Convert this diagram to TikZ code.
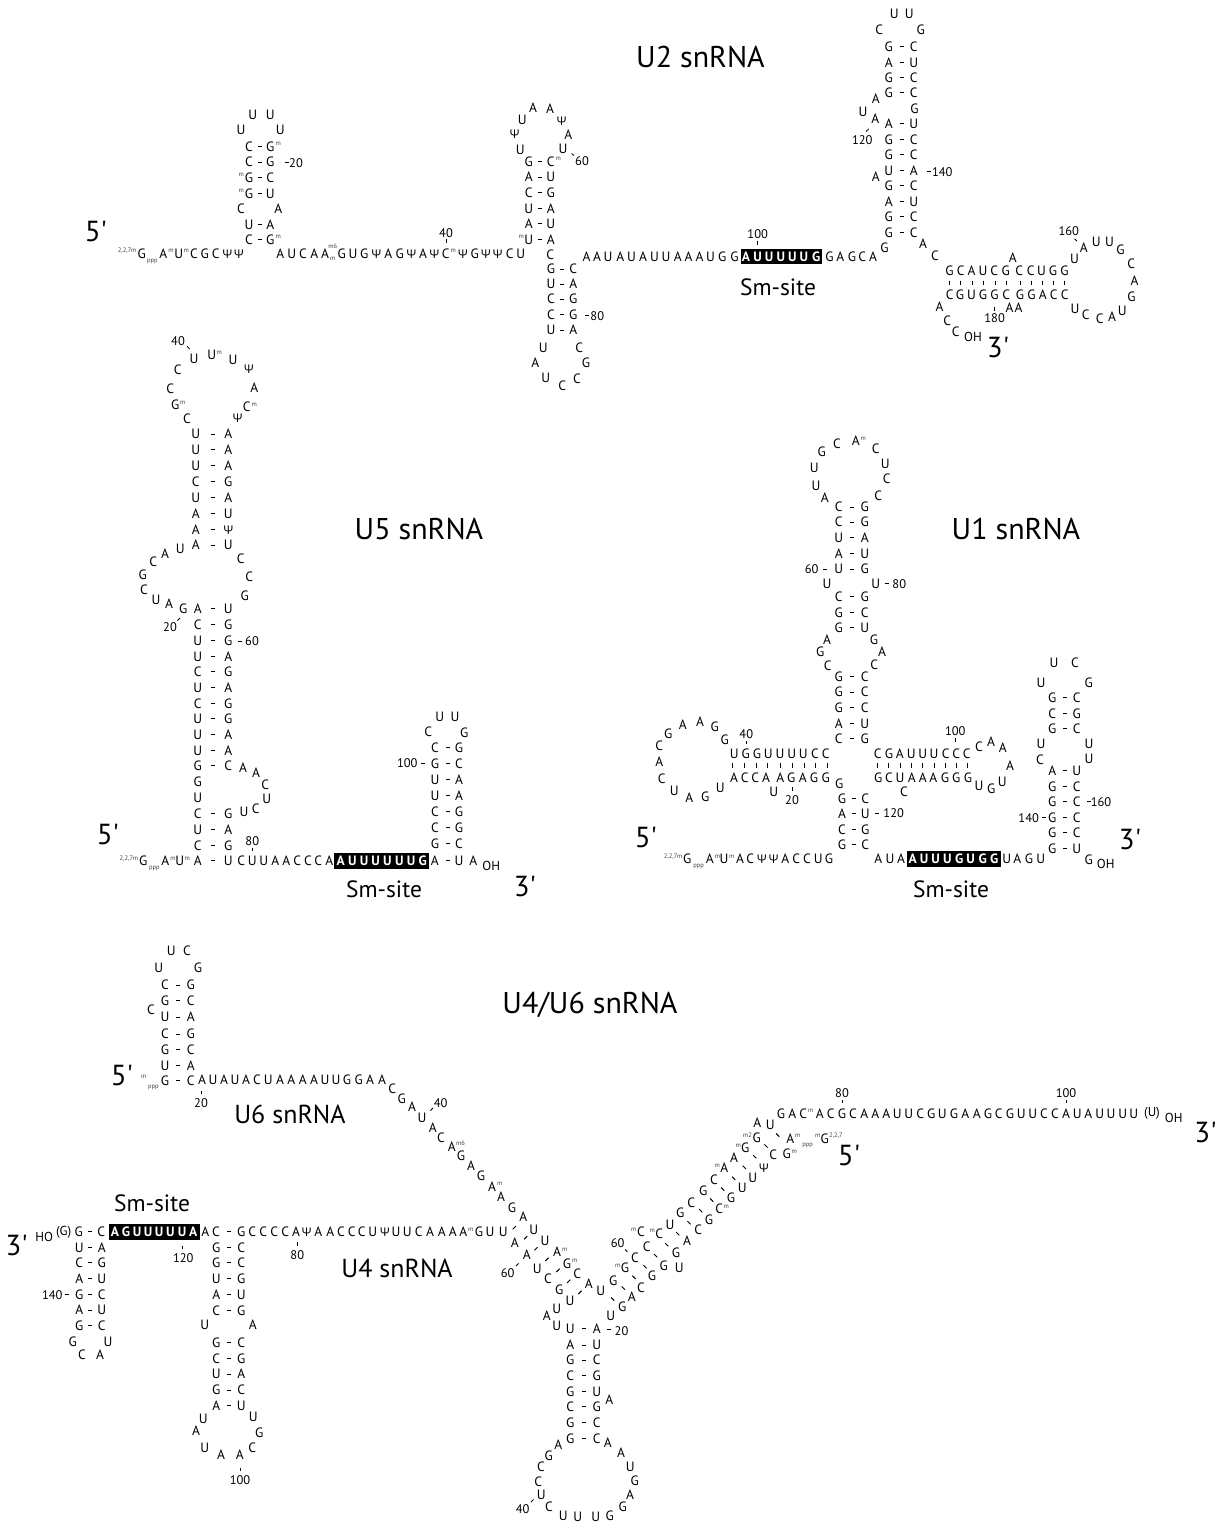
\documentclass[tikz,border=0pt]{standalone}
\usepackage{fontspec}
\setmainfont{PT Sans}
\newfontfamily\psifont{Open Sans}
\newfontfamily\primefont{PT Sans}
\newcommand\Pj{{\psifont\fontsize{12}{13}\selectfont Ψ}}
\tikzset{
  nt/.style={inner sep=0pt,outer sep=0pt,font=\fontsize{13.5}{14}\selectfont,text height=9.4pt,text depth=0pt,anchor=center},
  ntw/.style={nt,text=white,font=\fontsize{13.5}{14}\selectfont\bfseries},
  num/.style={inner sep=0pt,font=\fontsize{12.5}{13}\selectfont,text height=8.8pt,text depth=0pt,anchor=center},
  modr/.style={inner sep=0pt,font=\fontsize{6.5}{8}\selectfont,text=black!75,anchor=west},
  modl/.style={inner sep=0pt,font=\fontsize{6.5}{8}\selectfont,text=black!75,anchor=east},
  modc/.style={inner sep=0pt,font=\fontsize{6.5}{8}\selectfont,text=black!75,anchor=center},
  oh/.style={inner sep=0pt,font=\fontsize{13}{14}\selectfont,anchor=center},
  title/.style={inner sep=0pt,font=\fontsize{30}{32}\selectfont,anchor=center},
  smsite/.style={inner sep=0pt,font=\fontsize{23.5}{25}\selectfont,anchor=center},
  prime/.style={inner sep=0pt,font=\primefont\fontsize{29}{31}\selectfont,anchor=center},
  bpd/.style={line width=1pt,black},
  tick/.style={line width=.8pt,black},
  boxfill/.style={fill=black,draw=none},
}
% single items
\newcommand\Ls[1]{\foreach \x/\y/\c in {#1}{\node[nt] at (\x,\y) {\c};}}
% a row at one height
\newcommand\Rw[2]{\foreach \x/\c in {#2}{\node[nt] at (\x,#1) {\c};}}
\newcommand\Rww[2]{\foreach \x/\c in {#2}{\node[ntw] at (\x,#1) {\c};}}
% a stem: x left, x dash, x right, list y/left/right
\newcommand\Stem[4]{\foreach \y/\a/\b in {#4}{%
  \node[nt] at (#1,\y) {\a};\node[nt] at (#3,\y) {\b};
  \draw[bpd] ({#2-2},\y) -- ({#2+2},\y);}}
\newcommand\Tk[1]{\foreach \xa/\ya/\xb/\yb in {#1}{\draw[tick] (\xa,\ya) -- (\xb,\yb);}}
\newcommand\VT[3]{\foreach \x in {#3}{\draw[tick] (\x,#1) -- (\x,#2);}}
\newcommand\Num[1]{\foreach \x/\y/\c in {#1}{\node[num] at (\x,\y) {\c};}}
\newcommand\Dsh[1]{\foreach \x/\y in {#1}{\draw[bpd] ({\x-2},\y) -- ({\x+2},\y);}}
\newcommand\MR[1]{\foreach \x/\y/\c in {#1}{\node[modr] at (\x,\y) {\c};}}
\newcommand\ML[1]{\foreach \x/\y/\c in {#1}{\node[modl] at (\x,\y) {\c};}}
\newcommand\MC[1]{\foreach \x/\y/\c in {#1}{\node[modc] at (\x,\y) {\c};}}
\begin{document}
\begin{tikzpicture}[x=1pt,y=-1pt]
\useasboundingbox (0,0) rectangle (1219,1524);
% ---------- titles
\node[title] (tU2) at (700.5,57) {U2 snRNA};
\node[title] (tU5) at (419,529) {U5 snRNA};
\node[title] (tU1) at (1016,529) {U1 snRNA};
\node[title] (tU46) at (590,1005) {U4/U6 snRNA};
\node[smsite,font=\fontsize{26}{28}\selectfont] (tU6) at (290,1114) {U6 snRNA};
\node[smsite,font=\fontsize{26}{28}\selectfont] (tU4) at (397,1268) {U4 snRNA};
\node[smsite] (s2) at (778,287.5) {Sm-site};
\node[smsite] (s5) at (384,889) {Sm-site};
\node[smsite] (s1) at (951,889) {Sm-site};
\node[smsite] (s4) at (152,1203) {Sm-site};
\foreach \x/\y/\c in {96/232/5',998/348/3',108/835/5',525/887/3',646/838/5',1130/840/3',122/1076/5',16.7/1246/3',849/1156/5',1205.5/1133/3'}{\node[prime] at (\x,\y) {\c};}
% ---------- black boxes
\fill[boxfill] (740.8,249) rectangle (822.3,263.7);
\fill[boxfill] (334,853) rectangle (428.7,868.7);
\fill[boxfill] (907.3,851) rectangle (1001,866.7);
\fill[boxfill] (109,1224) rectangle (200,1240);
% ========== U2 ==========
\Ls{252.7/114.3/U,270.3/114.3/U,241/129.7/U,280.3/129.7/U,241/208.7/C,278.3/208.7/A}
\Stem{249}{259.5}{270.3}{146.7/C/G,162/C/G,177.7/G/C,193.3/G/U,224.3/U/A,239.7/C/G}
\MR{275.5/144/m,275.5/237/m}
\ML{244/175/m,244/191/m}
\Dsh{286.7/162} \Num{296/162.7/20}
\Rw{253.3}{141.7/G,163.3/A,178.7/U,194/C,204.7/G,215.7/C,227.3/\Pj,239/\Pj,280.3/A,291.7/U,303/C,314.3/A,325/A,341.7/G,353/U,364.3/G,376.3/\Pj,388.3/A,399.7/G,411.3/\Pj,423/A,434.3/\Pj,445.7/C,463/\Pj,474.7/G,486/\Pj,497.7/\Pj,509.7/C,520.7/U}
\ML{136.5/251/{2,2,7m}}
\MC{152.3/261.7/ppp,332.7/246/m6,332.7/258.5/m}
\MR{168.2/251/m,183.5/251/m,450.5/250.5/m}
\Num{446/232.7/40} \VT{239}{243}{446.3}
\Stem{528.7}{539.5}{550.7}{161.7/G/C,177/A/U,192.7/C/G,208.3/U/A,223.7/A/U,239.3/U/A}
\MR{555.5/159/m} \ML{524/237/m}
\Ls{520.3/149.3/U,563/148.7/U,514.7/133.7/\Pj,568.3/134.3/A,522.3/120/U,561.7/121/\Pj,533/107.7/A,550/108.7/A,550.3/254.7/C}
\Num{582/161.3/60} \Tk{571.5/153.5/574/155.5}
\Stem{551}{562}{573.3}{269/G/C,284/U/A,299/C/G,314.7/C/G,330/U/A}
\Dsh{587/315} \Num{597.3/315.7/80}
\Ls{543.3/347.3/U,579.3/347.3/C,535.3/362.7/A,586/362.7/G,545.7/377.3/U,577/378.3/C,562.3/385.3/C}
\Rw{256.7}{586.5/A,597/A,608/U,620.4/A,631.5/U,643/A,654.6/U,666/U,677.7/A,688.5/A,699.6/A,710.4/U,722.3/G,734.6/G,829.6/G,840.4/A,851.9/G,862.3/C,873/A}
\Rww{256.7}{746/A,757.7/U,769.2/U,780.8/U,792.3/U,803.8/U,816.2/G}
\Num{757.7/234/100} \VT{240.7}{244.5}{757.7}
\Stem{888.8}{902.3}{913.8}{46.7/G/C,62.7/A/U,77.7/G/C,92.7/G/C,123.7/A/U,139.3/G/C,154.7/G/C,170.7/U/A,185.7/G/C,201.3/A/U,216.7/G/C,232.7/G/C}
\Ls{894.2/13.7/U,909.2/13.7/U,879.2/30/C,920.8/30/G,914.6/109/G,875.8/98.7/A,863/111.7/U,875.4/118.3/A,875.8/176.7/A,884.6/247.7/G,923/244/A,935/255.7/C}
\Tk{866/131.5/868.8/128.8}
\Num{862.3/139.7/120,942.3/171.7/140} \Dsh{928.8/171}
\Rw{271}{949.6/G,960.8/C,971.5/A,983/U,994.2/C,1005.8/G,1019.2/C,1030.8/C,1041.5/U,1053/G,1064.6/G}
\VT{280.5}{285}{949.6,960.8,971.9,983.5,995,1006.2,1020,1031.2,1042.3,1053.5,1064.2}
\Rw{294.7}{949.6/C,960/G,971.5/U,983/G,994.6/G,1006.2/C,1020/G,1031.5/G,1042.7/A,1053.8/C,1064.6/C}
\Ls{1012.7/257.7/A,939.6/306.3/A,947.3/320.7/C,955.8/331.3/C,1009.6/308/A,1018.5/308/A,1074.6/258.7/U,1083.8/248/A,1096.2/242/U,1109.6/242/U,1120.4/249.7/G,1131.2/264/C,1134.6/281/A,1131.5/296.7/G,1122.3/310.7/U,1112/316.7/A,1099.6/318.3/C,1085.8/315/C,1075/309/U}
\node[oh] at (973,336.7) {OH};
\VT{306.7}{310.7}{994.6}
\Num{994.6/317.7/180,1068.8/230.7/160}
\Tk{1074.5/238.8/1077/241.2}
% ========== U5 ==========
\Num{178/341/40} \Tk{187/346.3/189.6/349}
\Ls{194/358.7/U,211.7/354.7/U,233/360/U,249/369/\Pj,254.3/388/A,246.7/406.7/C,237.7/418/\Pj,177.7/369.7/C,170.3/388.7/C,175.3/404.7/G,187/418.7/C}
\MR{216.5/352.5/m,251.5/405/m,180/402.5/m}
\Stem{195.7}{213}{228.3}{434/U/A,449.7/U/A,465.7/U/A,481.7/C/G,497.7/U/A,513.7/A/U,529.7/A/\Pj,545/A/U}
\Ls{180.3/548.7/U,165/553.7/A,153.3/561.7/C,142.7/575/G,144/589.7/C,156/599.3/U,169/603.7/A,240.7/558.7/C,249.3/576.7/C,244.7/595.7/G,183.3/608.3/G}
\Stem{197.7}{213}{228.3}{608.3/A/U,624.7/C/G,640.7/U/G,656.7/U/A,671.7/C/G,687.7/U/A,703.7/C/G,718.7/U/G,734.3/U/A,750.7/U/A,765.7/G/C,813.3/C/G,829.3/U/A,845.7/C/G,860.7/A/U}
\Ls{197.7/781.7/G,197.7/797.7/U,243/767.7/A,256/772.3/A,265.3/784.3/C,266.7/799/U,255.7/808.7/C,244/811.7/U}
\Num{170/626.7/20,252/641.3/60,252.3/840.7/80}
\Tk{177.5/620.5/180/618}
\Dsh{240.3/641}
\VT{847.5}{851}{252.3}
\Rw{860.7}{143.3/G,165.3/A,179.7/U,241.3/C,252.3/U,263.7/U,275.3/A,286.3/A,297.3/C,308/C,318.3/C,329.3/A,434.7/A,459/U,473.3/A}
\Rww{860.7}{340.7/A,352.3/U,364/U,375.7/U,387.3/U,399.3/U,411/U,422.7/G}
\Dsh{447.7/860.7}
\ML{138.3/858.7/{2,2,7m}}
\MC{154.3/868.3/ppp}
\MR{170.2/858.5/m,184.5/858.5/m}
\node[oh] at (491.3,866) {OH};
\Ls{439.7/716.7/U,455/716.7/U,428.3/732/C,464.3/732.7/G}
\Stem{435}{447.7}{459}{747.7/C/G,763.3/G/C,779.7/U/A,795.7/U/A,811.7/C/G,827.7/C/G,843.7/G/C}
\Num{407.3/763.3/100} \Dsh{423.3/763}
% ========== U1 ==========
\Ls{821.7/452/G,837/443.7/C,855.7/441/A,875.7/448.7/C,885.3/463.3/U,886.7/478.7/C,878.3/495.7/C,814.3/467.7/U,816/486/U,824.7/497.7/A}
\MR{860.5/439/m}
\Stem{838.7}{851.7}{864.7}{507/C/G,522/C/G,537.7/U/A,553.3/A/U,569/U/G,596.7/C/G,612.3/G/C,627.3/G/U,676.7/G/C,692/G/C,707.7/G/C,723.3/A/U,738.3/C/G}
\Num{811.7/569/60,899.3/583.7/80}
\Dsh{825.3/569,886.7/583.5}
\Ls{827/583.7/U,875.7/583.7/U,827/640/A,820.3/652/G,827.7/665.7/C,874/640/G,882/651.7/A,874.3/665/C}
\Ls{668.3/734/G,682.7/724.7/A,700/721.7/A,714.7/726.7/G,724.7/739.7/G,659.3/746/C,659.3/761.3/A,661.7/778.7/C,674.3/791/U,689.3/797.7/A,705.3/796.7/G,720.3/787.7/U,773.7/792/U,839.3/783.7/G,904/791.7/C}
\Num{746.3/734/40,792/800/20,955.3/730.7/100}
\VT{740.5}{744}{746.3}
\VT{787}{790.5}{792}
\VT{738}{742}{955.3}
\Rw{753.3}{734.3/U,745.7/G,757/G,768.3/U,780/U,791.7/U,803.3/U,815/C,825.7/C,877.7/C,889/G,899.7/A,911.3/U,922.7/U,934/U,945.7/C,956.3/C,966.7/C}
\VT{763}{767.5}{732.7,744.3,756,767.3,780,792,804,815.3,827.3,877.7,888.7,900,911.3,922.7,934,945,956,967.3}
\Rw{778}{734/A,744.7/C,755.3/C,766/A,780.3/A,791.3/G,802.7/A,814/G,825.7/G,878.3/G,889/C,900/U,911.7/A,922.7/A,933.3/A,945/G,956.3/G,968/G}
\Stem{842}{854}{865.3}{798.3/G/C,813.3/A/U,829.3/C/G,844.7/G/C}
\Dsh{877.3/813} \Num{893.7/813/120}
\Rw{859}{687.3/G,709.7/A,724/U,740/A,750.3/C,762/\Pj,773.7/\Pj,785.3/A,796.3/C,807/C,818.3/U,829/G,878.3/A,890/U,901/A,1006.7/U,1017.3/A,1029/G,1040.7/U}
\Rww{859}{912.7/A,924/U,935.7/U,947.3/U,959.3/G,970.7/U,982.7/G,994.3/G}
\ML{682.5/856.7/{2,2,7m}}
\MC{698.7/866.7/ppp}
\MR{714.6/856.5/m,729/856.5/m}
\Ls{979/746.7/C,991/741.7/A,1002.7/747.7/A,1010/765.7/A,1002.3/781.7/U,991.3/789/G,979/785.7/U}
\Ls{1054/662.7/U,1075/662.7/C,1041/682.3/U,1088.7/682.3/G,1041/744/U,1040/760/C,1089/744/U,1089/758.7/U,1088.7/859.3/G}
\Stem{1052.3}{1065}{1076.7}{697.7/G/C,713.3/C/G,728.7/G/C,770.7/A/U,786.3/G/C,801.7/G/C,817.7/G/C,832.7/G/C,848.3/G/U}
\Dsh{1089/801.5,1044/817}
\Num{1101/801.7/160,1028.7/817.7/140}
\node[oh] at (1105.7,863.7) {OH};
% ========== U6 ==========
\Ls{171.3/950.7/U,187/950.7/C,158.7/967.3/U,198/967.3/G,151/1010/C}
\Stem{165}{178.3}{190.7}{985/C/G,1000.7/G/C,1017/U/A,1034/C/G,1049.3/G/C,1065.3/U/A,1080.3/G/C}
\MC{143.7/1077.3/m,153.3/1087.7/ppp}
\Rw{1080}{202/A,213/U,224/A,235/U,246/A,257/C,268.3/U,280/A,291.3/A,302.7/A,314/A,325/U,336/U,347/G,358.7/G,370/A,382/A}
\VT{1090.5}{1094}{201}
\Num{201/1102.7/20,440.7/1102.7/40}
\Ls{392.3/1088.7/C,401.7/1099/G,412/1106.7/A,422/1117.7/U,432.7/1127.3/A,441/1137.3/C,451.7/1146.7/A,461/1155.3/G,471/1165.5/A,481/1175.5/G,492/1186.3/A,501/1197/A,512/1208/G,523.3/1216.3/A}
\Tk{430.5/1110.5/433/1108}
\MR{456/1143.5/m6,497/1184/m}
% ========== U4 ==========
\Rw{1231.7}{78.7/G,101.3/C,205.3/A,216/C,241.3/G,252.3/C,263.3/C,274.3/C,285.3/C,296/A,306.7/\Pj,318.3/A,330.3/A,341/C,351.7/C,361.7/C,372.7/U,385/\Pj,396/U,407.3/U,418.7/C,430/A,441.7/A,452.7/A,463.3/A,479/G,490/U,503.3/U}
\Rww{1231.7}{115/A,126/G,137/U,148/U,159/U,170.3/U,182/U,193.3/A}
\MR{468/1229.5/m}
\Dsh{90.3/1231.7,229.3/1231.7}
\node[oh] at (44.3,1236.7) {HO};
\node[oh] at (63.7,1232) {(G)};
\VT{1245.5}{1249}{182.7}
\VT{1242}{1245.5}{297.3}
\Num{183.3/1257.7/120,297.3/1255/80,52.3/1294.7/140,240/1479.7/100}
\Stem{79.3}{90.3}{101.7}{1247.3/U/A,1262.7/C/G,1278.7/A/U,1294.7/G/C,1310/A/U,1325.7/G/C}
\Dsh{66.7/1294}
\Ls{72.7/1341.7/G,108/1341.7/U,82/1354.7/C,100/1354.7/A}
\Stem{216.3}{229.3}{241.3}{1247.3/G/C,1262.7/G/C,1278.7/U/G,1294.7/A/U,1310.3/C/G,1342.3/G/C,1358.3/C/G,1374/U/A,1390/G/C,1405.7/A/U}
\Ls{204.7/1324.7/U,252.7/1324.7/A,203.3/1418.3/U,253.3/1416.7/U,196/1430.7/A,259.3/1432.3/G,204.7/1447.3/U,252.3/1447.3/C,221/1454.7/A,239.7/1454.7/A}
\VT{1467.5}{1471}{240}
% junction, left side
\Ls{514.7/1242.3/A,533.7/1230/U,545/1240.7/U,526.7/1254.7/A,557/1251.7/A,567/1263.3/G,537.3/1268.3/U,577.3/1273.7/C,548/1278.3/C,559.3/1289.3/G,588.7/1283.7/A,600.7/1290.7/U,570/1300.7/U,556.7/1308.3/U,546.7/1315.7/A,556.7/1325.3/U}
\MR{562/1249.5/m,572/1261/m}
\Num{507.7/1272.7/60}
\Tk{516/1266/518.6/1263.4}
\foreach \x/\y in {514.3/1227.7,525.7/1237.7,536/1248.7,547/1259.3,558/1270.3,568.7/1281.3,580/1292.3}{\draw[bpd] ({\x-1.6},{\y+1.6}) -- ({\x+1.6},{\y-1.6});}
% bottom stem
\Stem{570.3}{584.3}{596.7}{1328.7/U/A,1345/A/U,1360/G/C,1375.7/C/G,1391.7/G/U,1406.7/C/G,1422.7/G/C,1438.7/G/C}
\Dsh{608.5/1329.5} \Num{621.5/1331/20,522.7/1508.7/40}
\Tk{531/1502/533.6/1499.5}
\Ls{609.3/1400/A,558.3/1444.7/A,548.7/1456/G,541/1466.7/C,538.3/1481.3/C,541.3/1495/U,549/1506.7/C,563.3/1515.5/U,577.7/1517/U,595.7/1517/U,609.7/1515.5/G,622.7/1506.7/G,630/1495/A,634.7/1480.7/G,630.3/1466.7/U,621/1452.3/A,607.7/1442.3/A}
% right arm
\Ls{757.3/1122.3/A,770.3/1124.3/U,790.3/1138.7/A,824.7/1138.7/G,756.7/1137.3/G,745.3/1147.7/G,773.3/1154.3/C,786.7/1154/G,734/1157.3/A,764/1167.3/\Pj,724.3/1167.7/A,752.7/1177.7/U,714/1180/C,742.3/1187.3/U,703.3/1190.7/G,731/1197.7/G,691.3/1202.7/C,719.3/1208.7/C,680.3/1212.7/G,709/1220/G,670/1224.3/U,698.3/1230/C,659.3/1233.7/C,641/1232/C,687/1240.7/A,646.7/1246.7/C,676/1252.7/G,635/1257.7/C,663.7/1265.3/G,679.3/1267.3/U,625/1267.7/G,652/1276/G,613.3/1280.7/G,641/1287.3/C,631.7/1296.7/A,622.3/1306.7/G,610.7/1316/U}
\ML{752/1135/m2,741/1145.5/m,720/1165.5/m,655/1231/m,636.5/1230/m,620.5/1265.5/m,820.5/1136/m}
\MR{795/1136/m,791.5/1152/m,723.5/1206.5/m,829/1136/{2,2,7}}
\MC{807.7/1145.3/ppp}
\Num{617.7/1242.7/60,842/1092.7/80,1066/1092.7/100}
\Tk{625/1249.5/627.3/1251.8}
\foreach \x/\y in {777.7/1135,766/1146,754.7/1156.7,744.3/1167.3,733.7/1178.3,722.7/1189,711.7/1200,700.7/1210.7,689/1222.7,677.7/1233.7,666.7/1244.7,655.7/1255.7,645/1266.7,634/1277.3,623.3/1288,612.7/1299}{\draw[bpd] ({\x-1.6},{\y-1.6}) -- ({\x+1.6},{\y+1.6});}
\Rw{1113.3}{781/G,792.3/A,803.3/C,819.7/A,830.7/C,842/G,853/C,864.3/A,875.3/A,886.3/A,897.3/U,908.7/U,920.3/C,931.3/G,942.3/U,954/G,965.3/A,976.7/A,988/G,998.7/C,1010/G,1021.3/U,1032.7/U,1044/C,1055/C,1066/A,1077.3/U,1088.3/A,1099.7/U,1111/U,1122.7/U,1133.7/U}
\MR{808/1111/m}
\VT{1099.8}{1103.3}{842,1066}
\node[oh] at (1152,1113.3) {(U)};
\node[oh] at (1173.7,1118) {OH};
\end{tikzpicture}
\end{document}
